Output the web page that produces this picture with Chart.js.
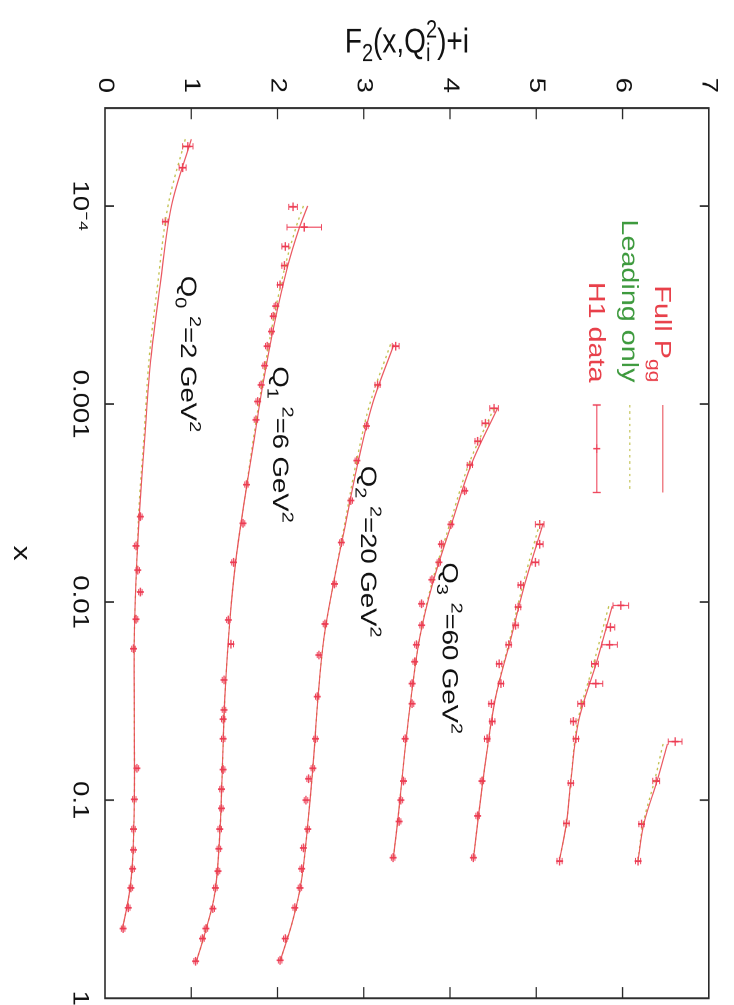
<!DOCTYPE html>
<html>
<head>
<meta charset="utf-8">
<script src="https://cdn.jsdelivr.net/npm/chart.js@4.4.1/dist/chart.umd.min.js"></script>
<style>
  html, body { margin: 0; padding: 0; background: #fff; width: 734px; height: 1005px; overflow: hidden; }
  #marco { position: absolute; left: 0; top: 0; transform-origin: 0 0; }
</style>
</head>
<body>
<div id="marco"><canvas id="grafico-f2"></canvas></div>
<script>
// la figura original esta girada 90 grados y un poco estirada a lo largo del eje x
const ESTIRA = 1.25;
const ANCHO = 1005 / ESTIRA, ALTO = 734;
const fuente = '"Liberation Sans", Arial, sans-serif';

const marco = document.getElementById('marco');
const canvas = document.getElementById('grafico-f2');
canvas.width = ANCHO; canvas.height = ALTO;
marco.style.width = ANCHO + 'px';
marco.style.height = ALTO + 'px';
marco.style.transform = `translate(734px,0) rotate(90deg) scaleX(${ESTIRA})`;

// ---- datos ----
const offsets = [0, 1, 2, 3, 4, 5, 6];
const xMin = 3.2e-5, xMax = 1;
const xTicks = [1e-4, 1e-3, 1e-2, 1e-1, 1];
const xTickLabels = ['10\u207B\u2074', '0.001', '0.01', '0.1', '1'];
const yTicks = [0, 1, 2, 3, 4, 5, 6, 7];

// H1 data (x, F2 sin desplazamiento, error) por bin de Q^2
const h1X = [
  [5.0e-5, 6.4e-5, 1.2e-4, 3.7e-3, 5.2e-3, 6.9e-3, 8.9e-3, 1.22e-2, 1.72e-2, 6.9e-2, 0.099, 0.14, 0.178, 0.222, 0.277, 0.349, 0.445],
  [1.01e-4, 1.28e-4, 1.6e-4, 2.0e-4, 2.5e-4, 3.2e-4, 3.6e-4, 4.3e-4, 5.1e-4, 6.4e-4, 8.0e-4, 9.7e-4, 1.2e-3, 2.55e-3, 4.0e-3, 6.3e-3, 1.23e-2, 1.63e-2, 2.47e-2, 3.5e-2, 3.9e-2, 4.9e-2, 7.0e-2, 8.8e-2, 0.11, 0.14, 0.176, 0.228, 0.277, 0.353, 0.445, 0.50, 0.65],
  [5.1e-4, 8.0e-4, 1.29e-3, 1.93e-3, 3.07e-3, 5.0e-3, 8.1e-3, 1.29e-2, 1.85e-2, 3.0e-2, 4.9e-2, 6.9e-2, 7.8e-2, 0.10, 0.14, 0.174, 0.222, 0.277, 0.349, 0.50, 0.644],
  [1.05e-3, 1.25e-3, 1.54e-3, 2.03e-3, 2.74e-3, 4.05e-3, 5.1e-3, 6.3e-3, 7.7e-3, 1.02e-2, 1.31e-2, 1.64e-2, 2.0e-2, 2.58e-2, 3.26e-2, 4.9e-2, 8.0e-2, 0.10, 0.128, 0.195],
  [4.05e-3, 5.1e-3, 6.3e-3, 8.2e-3, 1.06e-2, 1.31e-2, 1.64e-2, 2.05e-2, 2.58e-2, 3.26e-2, 4.0e-2, 4.9e-2, 8.0e-2, 0.12, 0.195],
  [1.04e-2, 1.34e-2, 1.64e-2, 2.05e-2, 2.58e-2, 3.26e-2, 4.0e-2, 4.9e-2, 8.2e-2, 0.131, 0.203],
  [5.06e-2, 8.0e-2, 0.132, 0.203]
];
const h1F2 = [
  [0.96, 0.90, 0.70, 0.41, 0.36, 0.38, 0.41, 0.36, 0.33, 0.37, 0.34, 0.33, 0.33, 0.32, 0.30, 0.27, 0.21],
  [1.18, 1.31, 1.09, 1.08, 1.03, 0.98, 0.95, 0.93, 0.88, 0.85, 0.81, 0.77, 0.75, 0.64, 0.60, 0.49, 0.43, 0.46, 0.38, 0.38, 0.37, 0.37, 0.37, 0.35, 0.35, 0.33, 0.32, 0.31, 0.28, 0.25, 0.17, 0.13, 0.05],
  [1.37, 1.16, 1.03, 0.92, 0.85, 0.74, 0.66, 0.55, 0.48, 0.46, 0.44, 0.41, 0.36, 0.33, 0.35, 0.30, 0.28, 0.26, 0.20, 0.09, 0.03],
  [1.51, 1.41, 1.32, 1.23, 1.17, 1.01, 0.90, 0.87, 0.79, 0.67, 0.67, 0.61, 0.59, 0.56, 0.56, 0.48, 0.46, 0.43, 0.41, 0.34],
  [1.04, 1.04, 0.99, 0.82, 0.79, 0.76, 0.68, 0.57, 0.59, 0.48, 0.49, 0.43, 0.37, 0.32, 0.27],
  [0.98, 0.86, 0.85, 0.68, 0.69, 0.52, 0.43, 0.46, 0.40, 0.35, 0.27],
  [0.61, 0.39, 0.22, 0.18]
];
const h1Err = [
  [0.06, 0.04, 0.03, 0.02, 0.02, 0.02, 0.02, 0.02, 0.02, 0.02, 0.02, 0.02, 0.02, 0.02, 0.02, 0.02, 0.02],
  [0.05, 0.20, 0.04, 0.03, 0.03, 0.02, 0.02, 0.02, 0.02, 0.02, 0.02, 0.02, 0.02, 0.02, 0.02, 0.02, 0.02, 0.03, 0.02, 0.02, 0.02, 0.02, 0.02, 0.02, 0.02, 0.02, 0.02, 0.02, 0.02, 0.02, 0.02, 0.02, 0.02],
  [0.04, 0.03, 0.02, 0.02, 0.02, 0.02, 0.02, 0.02, 0.02, 0.02, 0.02, 0.02, 0.02, 0.02, 0.02, 0.02, 0.02, 0.02, 0.02, 0.02, 0.02],
  [0.05, 0.04, 0.03, 0.03, 0.02, 0.02, 0.02, 0.02, 0.02, 0.02, 0.02, 0.02, 0.02, 0.02, 0.02, 0.02, 0.02, 0.02, 0.02, 0.02],
  [0.05, 0.04, 0.04, 0.03, 0.03, 0.03, 0.03, 0.03, 0.03, 0.03, 0.03, 0.03, 0.02, 0.02, 0.02],
  [0.09, 0.05, 0.09, 0.04, 0.08, 0.04, 0.03, 0.03, 0.03, 0.03, 0.03],
  [0.08, 0.04, 0.03, 0.03]
];

// curvas teoricas: Full P_gg y Leading only
const teoX = [
  [4.6e-5, 1e-4, 2.5e-4, 6e-4, 1.5e-3, 3e-3, 6e-3, 1.5e-2, 4e-2, 0.1, 0.2, 0.3, 0.45],
  [1e-4, 1.3e-4, 2e-4, 4e-4, 8e-4, 1.5e-3, 3e-3, 6e-3, 1.2e-2, 3e-2, 7e-2, 0.15, 0.3, 0.5, 0.65],
  [5e-4, 1e-3, 2e-3, 4e-3, 8e-3, 1.5e-2, 3e-2, 6e-2, 0.12, 0.25, 0.4, 0.65],
  [1.05e-3, 2e-3, 4e-3, 8e-3, 1.5e-2, 3e-2, 6e-2, 0.12, 0.2],
  [4e-3, 8e-3, 1.5e-2, 3e-2, 6e-2, 0.12, 0.2],
  [1.05e-2, 2e-2, 4e-2, 8e-2, 0.13, 0.2],
  [5.2e-2, 8e-2, 0.13, 0.2]
];
const teoFull = [
  [1.00, 0.77, 0.64, 0.53, 0.46, 0.41, 0.37, 0.34, 0.34, 0.34, 0.32, 0.28, 0.20],
  [1.35, 1.25, 1.12, 0.96, 0.83, 0.73, 0.62, 0.52, 0.45, 0.39, 0.36, 0.33, 0.27, 0.14, 0.06],
  [1.35, 1.10, 0.93, 0.79, 0.65, 0.54, 0.47, 0.42, 0.36, 0.28, 0.18, 0.03],
  [1.55, 1.25, 1.02, 0.80, 0.65, 0.55, 0.47, 0.40, 0.34],
  [1.08, 0.87, 0.71, 0.53, 0.42, 0.33, 0.27],
  [0.88, 0.70, 0.49, 0.40, 0.35, 0.27],
  [0.52, 0.40, 0.25, 0.18]
];
const teoLeading = [
  [0.93, 0.73, 0.61, 0.51, 0.45, 0.40, 0.37, 0.34, 0.34, 0.34, 0.32, 0.28, 0.20],
  [1.30, 1.21, 1.09, 0.94, 0.82, 0.72, 0.62, 0.52, 0.45, 0.39, 0.36, 0.33, 0.27, 0.14, 0.06],
  [1.31, 1.07, 0.91, 0.78, 0.65, 0.54, 0.47, 0.42, 0.36, 0.28, 0.18, 0.03],
  [1.51, 1.22, 1.00, 0.79, 0.65, 0.55, 0.47, 0.40, 0.34],
  [1.04, 0.85, 0.70, 0.53, 0.42, 0.33, 0.27],
  [0.84, 0.67, 0.48, 0.40, 0.35, 0.27],
  [0.47, 0.37, 0.24, 0.18]
];

// etiquetas Q_i^2 (texto, x, y en unidades del grafico)
const etiquetasQ = [
  { sub: '0', valor: '2', x: 2.25e-4, y: 0.88 },
  { sub: '1', valor: '6', x: 6.45e-4, y: 1.95 },
  { sub: '2', valor: '20', x: 2.05e-3, y: 2.97 },
  { sub: '3', valor: '60', x: 6.3e-3, y: 3.91 }
];

const colorFull = 'rgba(232,70,80,0.9)';
const colorLeading = 'rgba(190,190,70,0.95)';
const colorH1 = 'rgba(236,55,80,0.9)';

// ---- texto con subindices y superindices ----
function anchoParte(c, p, size) {
  if (p[1] === 'n') { c.font = `${size}px ${fuente}`; return c.measureText(p[0]).width; }
  c.font = `${Math.round(size * 0.72)}px ${fuente}`;
  if (p[1] === 'subsup') return Math.max(c.measureText(p[0]).width, c.measureText(p[2]).width);
  return c.measureText(p[0]).width;
}

function dibujarRico(c, partes, x, y, size, align) {
  let total = 0;
  partes.forEach(p => total += anchoParte(c, p, size));
  let cx = align === 'right' ? x - total : align === 'center' ? x - total / 2 : x;
  c.textAlign = 'left';
  c.textBaseline = 'alphabetic';
  for (const p of partes) {
    const w = anchoParte(c, p, size);
    if (p[1] === 'n') c.fillText(p[0], cx, y);
    else if (p[1] === 'sub') c.fillText(p[0], cx, y + size * 0.25);
    else if (p[1] === 'sup') c.fillText(p[0], cx, y - size * 0.42);
    else { c.fillText(p[0], cx, y + size * 0.25); c.fillText(p[2], cx, y - size * 0.42); }
    cx += w;
  }
}

function cruz(c, x, y, r) {
  c.beginPath();
  c.moveTo(x - r, y); c.lineTo(x + r, y);
  c.moveTo(x, y - r); c.lineTo(x, y + r);
  c.stroke();
}

// barras de error de los datos H1
const pluginErrores = {
  id: 'errores',
  afterDatasetsDraw(chart) {
    const c = chart.ctx;
    const ys = chart.scales.y;
    c.save();
    chart.data.datasets.forEach((ds, i) => {
      if (!ds.errores) return;
      const meta = chart.getDatasetMeta(i);
      c.strokeStyle = colorH1;
      c.lineWidth = 1;
      meta.data.forEach((pt, k) => {
        const v = ds.data[k].y, e = ds.errores[k];
        const y1 = ys.getPixelForValue(v - e), y2 = ys.getPixelForValue(v + e);
        c.beginPath();
        c.moveTo(pt.x, y1); c.lineTo(pt.x, y2);
        c.moveTo(pt.x - 2.5, y1); c.lineTo(pt.x + 2.5, y1);
        c.moveTo(pt.x - 2.5, y2); c.lineTo(pt.x + 2.5, y2);
        c.stroke();
      });
    });
    c.restore();
  }
};

// marco, marcas hacia dentro, titulo del eje y, leyenda y etiquetas
const pluginMarco = {
  id: 'marco',
  afterDraw(chart) {
    const c = chart.ctx;
    const a = chart.chartArea;
    const xs = chart.scales.x, ys = chart.scales.y;
    c.save();
    c.strokeStyle = '#2a2a2a';
    c.lineWidth = 1.6;
    c.strokeRect(a.left, a.top, a.right - a.left, a.bottom - a.top);
    c.lineWidth = 1.3;
    c.beginPath();
    xTicks.forEach(v => {
      const px = xs.getPixelForValue(v);
      if (px >= a.right - 1) return;
      c.moveTo(px, a.bottom); c.lineTo(px, a.bottom - 9);
      c.moveTo(px, a.top); c.lineTo(px, a.top + 9);
    });
    yTicks.forEach(v => {
      const py = ys.getPixelForValue(v);
      if (py <= a.top + 1 || py >= a.bottom - 1) return;
      c.moveTo(a.left, py); c.lineTo(a.left + 9, py);
      c.moveTo(a.right, py); c.lineTo(a.right - 9, py);
    });
    c.stroke();

    // titulo eje y
    c.fillStyle = '#111';
    c.save();
    c.translate(32, (a.top + a.bottom) / 2);
    c.rotate(-Math.PI / 2);
    dibujarRico(c, [['F', 'n'], ['2', 'sub'], ['(x,Q', 'n'], ['i', 'subsup', '2'], [')+i', 'n']], 0, 10, 28, 'center');
    c.restore();

    // leyenda
    const filas = [
      { partes: [['Full P', 'n'], ['gg', 'sub']], color: '#e8404a', tipo: 'full' },
      { partes: [['Leading only', 'n']], color: '#3e9a3e', tipo: 'leading' },
      { partes: [['H1 data', 'n']], color: '#e8404a', tipo: 'h1' }
    ];
    const textoFin = 306, l0 = 324, l1 = 394;
    filas.forEach((f, k) => {
      const vy = a.top + 46 + k * 33;
      c.fillStyle = f.color;
      dibujarRico(c, f.partes, textoFin, vy + 8, 23, 'right');
      c.lineWidth = 1.2;
      if (f.tipo === 'full') { c.strokeStyle = colorFull; c.setLineDash([]); }
      else if (f.tipo === 'leading') { c.strokeStyle = colorLeading; c.setLineDash([2, 3]); }
      else { c.strokeStyle = colorH1; c.setLineDash([]); }
      c.beginPath(); c.moveTo(l0, vy); c.lineTo(l1, vy); c.stroke();
      c.setLineDash([]);
      if (f.tipo === 'h1') {
        c.beginPath();
        c.moveTo(l0, vy - 4); c.lineTo(l0, vy + 4);
        c.moveTo(l1, vy - 4); c.lineTo(l1, vy + 4);
        c.stroke();
        cruz(c, (l0 + l1) / 2, vy, 3.5);
      }
    });

    // etiquetas Q^2
    c.fillStyle = '#111';
    etiquetasQ.forEach(e => {
      const px = xs.getPixelForValue(e.x), py = ys.getPixelForValue(e.y);
      dibujarRico(c, [['Q', 'n'], [e.sub, 'sub'], [' ', 'n'], ['2', 'sup'], ['=' + e.valor + ' GeV', 'n'], ['2', 'sup']], px, py, 22, 'left');
    });
    c.restore();
  }
};

// ---- datasets ----
const datasets = [];
offsets.forEach((off, i) => {
  datasets.push({
    label: 'Full Pgg',
    data: teoX[i].map((x, k) => ({ x: x, y: teoFull[i][k] + off })),
    borderColor: colorFull, borderWidth: 1.2, pointRadius: 0, tension: 0.35, fill: false
  });
  datasets.push({
    label: 'Leading only',
    data: teoX[i].map((x, k) => ({ x: x, y: teoLeading[i][k] + off })),
    borderColor: colorLeading, borderWidth: 1.3, borderDash: [2, 3], pointRadius: 0, tension: 0.35, fill: false
  });
  datasets.push({
    label: 'H1 data',
    data: h1X[i].map((x, k) => ({ x: x, y: h1F2[i][k] + off })),
    errores: h1Err[i],
    showLine: false, pointStyle: 'cross', pointRadius: 3.5, borderWidth: 1.4,
    borderColor: colorH1, backgroundColor: colorH1
  });
});

const chart = new Chart(canvas.getContext('2d'), {
  type: 'line',
  data: { datasets: datasets },
  options: {
    responsive: false,
    animation: false,
    devicePixelRatio: 2,
    layout: { padding: { top: 21, right: 3, left: 0, bottom: 0 } },
    plugins: { legend: { display: false }, tooltip: { enabled: false } },
    scales: {
      x: {
        type: 'logarithmic', position: 'bottom', min: xMin, max: xMax,
        grid: { display: false, drawTicks: false }, border: { display: false },
        afterBuildTicks: s => { s.ticks = xTicks.map(v => ({ value: v })); },
        afterFit: s => { s.height = 105; s.paddingLeft = 0; s.paddingRight = 0; },
        ticks: {
          autoSkip: false, maxRotation: 0, padding: 12, color: '#111',
          font: { family: fuente, size: 22 },
          callback: v => xTickLabels[xTicks.indexOf(v)]
        },
        title: { display: true, text: 'x', color: '#111', font: { family: fuente, size: 24 }, padding: { top: 0, bottom: 6 } }
      },
      y: {
        min: 0, max: 7,
        grid: { display: false, drawTicks: false }, border: { display: false },
        afterBuildTicks: s => { s.ticks = yTicks.map(v => ({ value: v })); },
        afterFit: s => { s.width = 86.4; },
        ticks: { padding: 12, color: '#111', font: { family: fuente, size: 22 } }
      }
    }
  },
  plugins: [pluginErrores, pluginMarco]
});
</script>
</body>
</html>
